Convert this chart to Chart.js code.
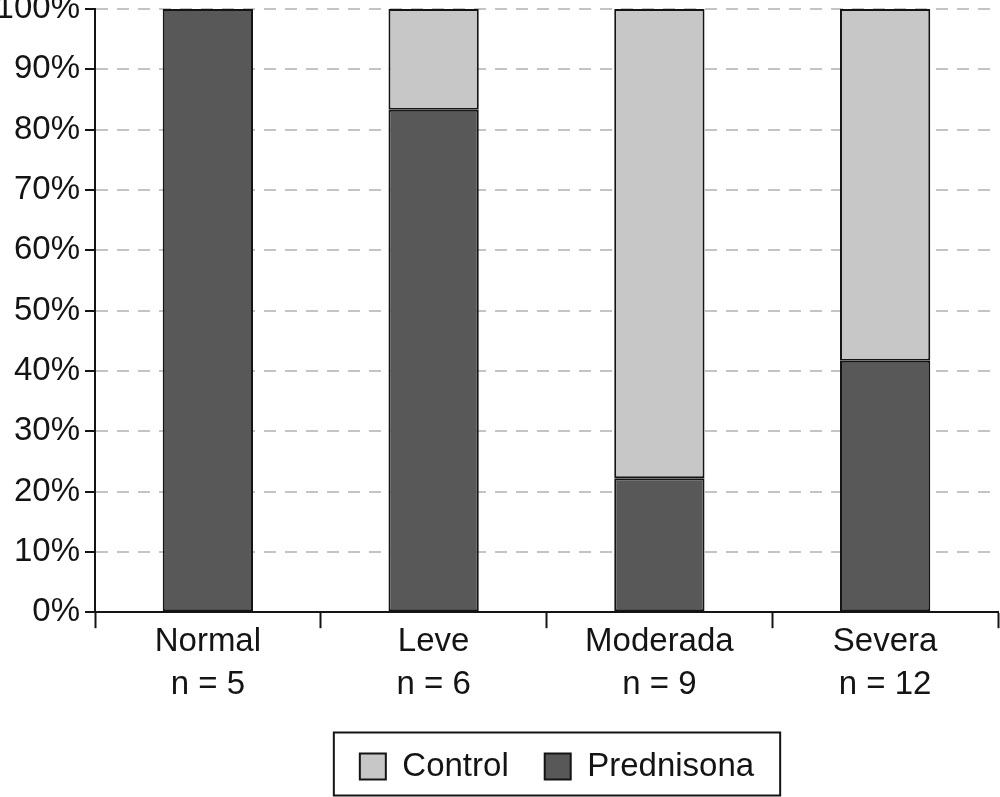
<!DOCTYPE html>
<html>
<head>
<meta charset="utf-8">
<script src="https://cdn.jsdelivr.net/npm/chart.js@4/dist/chart.umd.min.js"></script>
<style>
  html, body { margin: 0; padding: 0; background: #fff; }
  #wrap { width: 1000px; height: 797px; }
</style>
</head>
<body>
<div id="wrap"><canvas id="chart" width="1000" height="797"></canvas></div>
<script>
// data (percent of each group)
const categories = ['Normal', 'Leve', 'Moderada', 'Severa'];
const sampleSizes = [5, 6, 9, 12];
const prednisona = [100, 83.3, 22.2, 41.7];
const control = [0, 16.7, 77.8, 58.3];
const yTicks = [0, 10, 20, 30, 40, 50, 60, 70, 80, 90, 100];

const FONT = '"Liberation Sans", Arial, Helvetica, sans-serif';
const INK = '#141414';
const LEGEND_SHIFT = 58;

// the legend in the figure sits a bit right of centre, inside a frame
const legendFrame = {
    id: 'legendFrame',
    afterLayout(chart) {
        const lg = chart.legend;
        if (!lg) return;
        lg.left += LEGEND_SHIFT;
        lg.right += LEGEND_SHIFT;
    },
    afterDraw(chart) {
        const boxes = chart.legend && chart.legend.legendHitBoxes;
        if (!boxes || !boxes.length) return;
        const ctx = chart.ctx;
        const left = Math.min(...boxes.map(b => b.left)) - 26;
        const right = Math.max(...boxes.map(b => b.left + b.width)) + 26;
        const cy = boxes[0].top + boxes[0].height / 2;
        ctx.save();
        ctx.strokeStyle = INK;
        ctx.lineWidth = 2;
        ctx.strokeRect(left, cy - 34, right - left, 63);
        ctx.restore();
    }
};

const labels = categories.map((c, i) => [c, 'n = ' + sampleSizes[i]]);

new Chart(document.getElementById('chart'), {
    type: 'bar',
    data: {
        labels: labels,
        datasets: [
            {
                label: 'Prednisona',
                data: prednisona,
                backgroundColor: '#585858',
                borderColor: INK,
                borderWidth: 2,
                borderSkipped: false
            },
            {
                label: 'Control',
                data: control,
                backgroundColor: '#c7c7c7',
                borderColor: INK,
                borderWidth: 2,
                borderSkipped: false
            }
        ]
    },
    options: {
        responsive: false,
        animation: false,
        devicePixelRatio: 1,
        barPercentage: 0.4,
        categoryPercentage: 1,
        layout: { padding: { top: 9, right: 2, left: 0, bottom: 4 } },
        scales: {
            x: {
                stacked: true,
                offset: true,
                afterFit: axis => { axis.height += 16; },
                grid: {
                    offset: true,
                    drawOnChartArea: false,
                    drawTicks: true,
                    tickLength: 16,
                    tickColor: INK,
                    tickWidth: 2
                },
                border: { color: INK, width: 2 },
                ticks: {
                    color: INK,
                    padding: -8,
                    font: { family: FONT, size: 33, lineHeight: 1.3 }
                }
            },
            y: {
                stacked: true,
                min: 0,
                max: 100,
                afterBuildTicks: axis => { axis.ticks = yTicks.map(v => ({ value: v })); },
                afterFit: axis => { axis.width = 95; },
                grid: {
                    color: '#c4c4c4',
                    lineWidth: 2,
                    drawTicks: true,
                    tickLength: 10,
                    tickColor: INK,
                    tickWidth: 2
                },
                border: { color: INK, width: 2, dash: [12, 9] },
                ticks: {
                    color: INK,
                    padding: 5,
                    font: { family: FONT, size: 33, lineHeight: 0.1 },
                    callback: v => v + '%'
                }
            }
        },
        plugins: {
            legend: {
                position: 'bottom',
                reverse: true,
                labels: {
                    color: INK,
                    boxWidth: 26,
                    boxHeight: 26,
                    padding: 36,
                    font: { family: FONT, size: 33 }
                }
            },
            tooltip: { enabled: false }
        }
    },
    plugins: [legendFrame]
});
</script>
</body>
</html>
